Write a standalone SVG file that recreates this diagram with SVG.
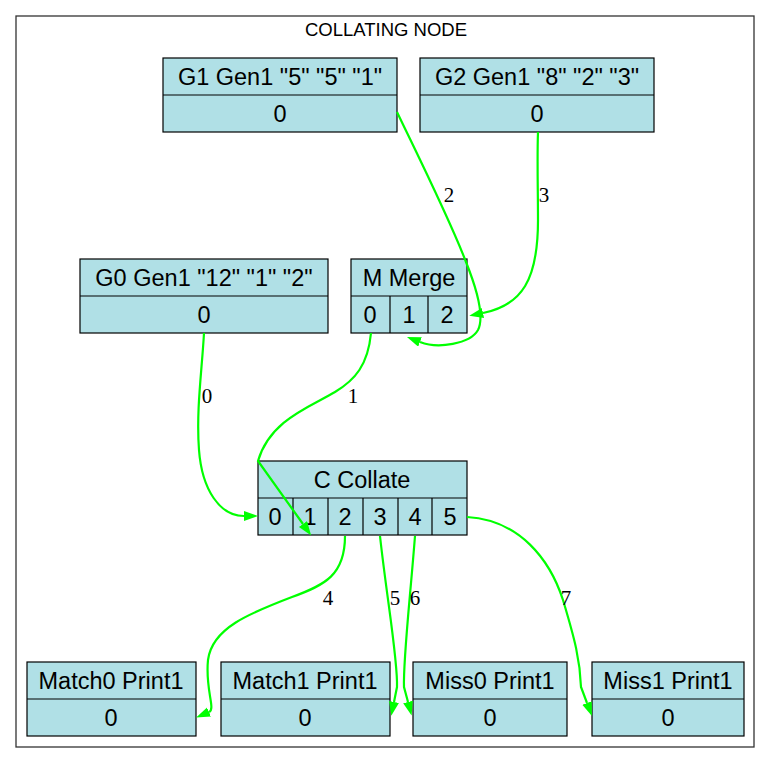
<svg xmlns="http://www.w3.org/2000/svg" width="772" height="764" viewBox="0 0 772 764">
  <style>
    .box { fill: #b0e0e6; stroke: #000; stroke-width: 1.2; }
    .sep { stroke: #000; stroke-width: 1.2; }
    .lbl { font-family: "Liberation Sans", Arial, sans-serif; font-size: 23.5px; fill: #000; text-anchor: middle; }
    .title { font-family: "Liberation Sans", Arial, sans-serif; font-size: 18.5px; fill: #000; text-anchor: middle; }
    .edge { fill: none; stroke: #00ff00; stroke-width: 2.2; marker-end: url(#arrow); }
    .elbl { font-family: "Liberation Serif", "Times New Roman", serif; font-size: 21px; fill: #000; text-anchor: middle; }
  </style>
  <defs>
    <marker id="arrow" markerUnits="userSpaceOnUse" markerWidth="15" markerHeight="11" refX="0" refY="5" orient="auto">
      <path d="M0,0 L14,5 L0,10 z" fill="#00ff00"/>
    </marker>
  </defs>
  <rect width="772" height="764" fill="#fff"/>

  <!-- cluster -->
  <g id="cluster">
    <rect x="16" y="16" width="738" height="731" fill="none" stroke="#333" stroke-width="1.3"/>
    <text class="title" x="386" y="36">COLLATING NODE</text>
  </g>

  <!-- generators -->
  <g id="G1">
    <rect class="box" x="163" y="58" width="234" height="74"/>
    <line class="sep" x1="163" y1="95" x2="397" y2="95"/>
    <text class="lbl" x="280" y="84.5">G1 Gen1 "5" "5" "1"</text>
    <text class="lbl" x="280" y="121.5">0</text>
  </g>
  <g id="G2">
    <rect class="box" x="420" y="58" width="234" height="74"/>
    <line class="sep" x1="420" y1="95" x2="654" y2="95"/>
    <text class="lbl" x="537" y="84.5">G2 Gen1 "8" "2" "3"</text>
    <text class="lbl" x="537" y="121.5">0</text>
  </g>
  <g id="G0">
    <rect class="box" x="80" y="259" width="248" height="74"/>
    <line class="sep" x1="80" y1="296" x2="328" y2="296"/>
    <text class="lbl" x="204" y="285.5">G0 Gen1 "12" "1" "2"</text>
    <text class="lbl" x="204" y="322.5">0</text>
  </g>

  <!-- merge -->
  <g id="M">
    <rect class="box" x="351" y="259" width="116" height="74"/>
    <line class="sep" x1="351" y1="296" x2="467" y2="296"/>
    <line class="sep" x1="390" y1="296" x2="390" y2="333"/>
    <line class="sep" x1="428" y1="296" x2="428" y2="333"/>
    <text class="lbl" x="409" y="285.5">M Merge</text>
    <text class="lbl" x="370" y="322.5">0</text>
    <text class="lbl" x="409" y="322.5">1</text>
    <text class="lbl" x="447" y="322.5">2</text>
  </g>

  <!-- collate -->
  <g id="C">
    <rect class="box" x="258" y="461" width="209" height="74"/>
    <line class="sep" x1="258" y1="498" x2="467" y2="498"/>
    <line class="sep" x1="293" y1="498" x2="293" y2="535"/>
    <line class="sep" x1="328" y1="498" x2="328" y2="535"/>
    <line class="sep" x1="363" y1="498" x2="363" y2="535"/>
    <line class="sep" x1="398" y1="498" x2="398" y2="535"/>
    <line class="sep" x1="432" y1="498" x2="432" y2="535"/>
    <text class="lbl" x="362" y="487.5">C Collate</text>
    <text class="lbl" x="275" y="524.5">0</text>
    <text class="lbl" x="310" y="524.5">1</text>
    <text class="lbl" x="345" y="524.5">2</text>
    <text class="lbl" x="380" y="524.5">3</text>
    <text class="lbl" x="415" y="524.5">4</text>
    <text class="lbl" x="450" y="524.5">5</text>
  </g>

  <!-- printers -->
  <g id="Match0">
    <rect class="box" x="27" y="662" width="169" height="74"/>
    <line class="sep" x1="27" y1="699" x2="196" y2="699"/>
    <text class="lbl" x="111" y="688.5">Match0 Print1</text>
    <text class="lbl" x="111" y="725.5">0</text>
  </g>
  <g id="Match1">
    <rect class="box" x="221" y="662" width="169" height="74"/>
    <line class="sep" x1="221" y1="699" x2="390" y2="699"/>
    <text class="lbl" x="305" y="688.5">Match1 Print1</text>
    <text class="lbl" x="305" y="725.5">0</text>
  </g>
  <g id="Miss0">
    <rect class="box" x="413" y="662" width="154" height="74"/>
    <line class="sep" x1="413" y1="699" x2="567" y2="699"/>
    <text class="lbl" x="490" y="688.5">Miss0 Print1</text>
    <text class="lbl" x="490" y="725.5">0</text>
  </g>
  <g id="Miss1">
    <rect class="box" x="592" y="662" width="152" height="74"/>
    <line class="sep" x1="592" y1="699" x2="744" y2="699"/>
    <text class="lbl" x="668" y="688.5">Miss1 Print1</text>
    <text class="lbl" x="668" y="725.5">0</text>
  </g>

  <!-- connectors -->
  <g id="edges">
    <path class="edge" d="M204,333 C202,370 196,410 199,450 C202,490 220,516 244,516"/>
    <path class="edge" d="M371,333 C368,365 355,380 335,392 C310,407 270,420 258,461 L303,524"/>
    <path class="edge" d="M397,112 C420,160 450,220 466,262 C478,292 484,318 478,330 C470,344 438,349 420,342"/>
    <path class="edge" d="M538,132 C537,160 538,190 538,220 C538,280 522,305 483,313"/>
    <path class="edge" d="M345,536 C345,575 325,585 292,597 C250,613 212,628 208,660 C205,690 216,709 209,712"/>
    <path class="edge" d="M380,536 C387,600 398,660 397,687 L394,702"/>
    <path class="edge" d="M415,536 C410,600 403,660 404,687 L408,702"/>
    <path class="edge" d="M467,517 C520,520 550,560 563,600 C575,640 580,660 581,687 L587,703"/>
    <text class="elbl" x="449" y="202">2</text>
    <text class="elbl" x="544" y="202">3</text>
    <text class="elbl" x="207" y="403">0</text>
    <text class="elbl" x="353" y="403">1</text>
    <text class="elbl" x="328" y="605">4</text>
    <text class="elbl" x="395" y="605">5</text>
    <text class="elbl" x="415" y="605">6</text>
    <text class="elbl" x="566" y="605">7</text>
  </g>
</svg>
